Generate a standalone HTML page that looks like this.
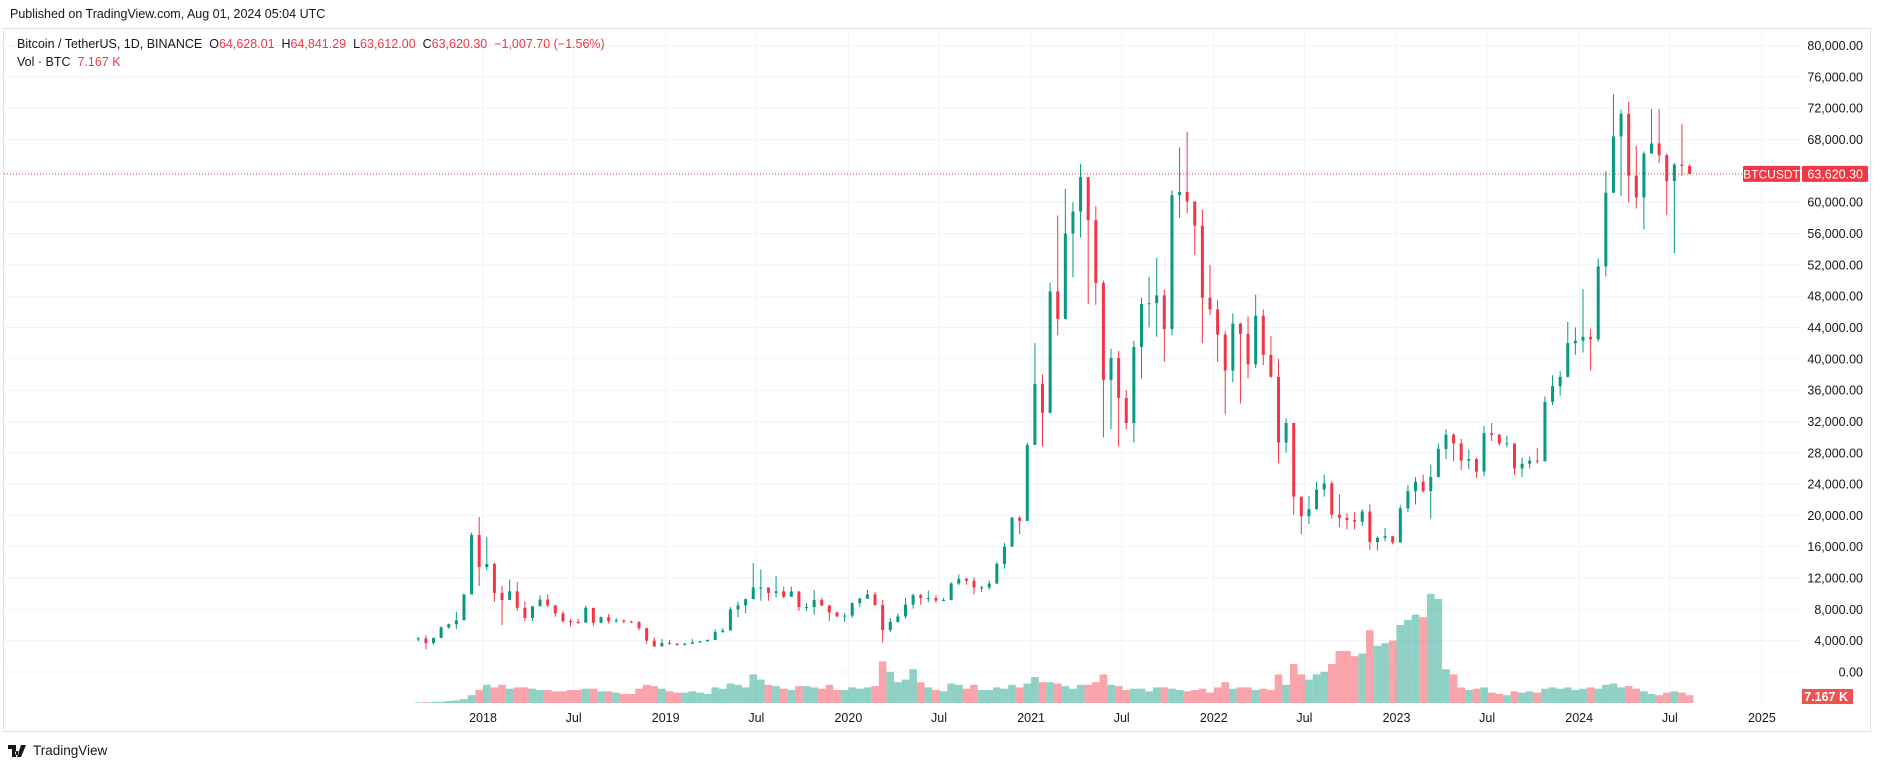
<!DOCTYPE html>
<html><head><meta charset="utf-8"><style>
html,body{margin:0;padding:0;background:#fff;width:1882px;height:768px;overflow:hidden;font-family:"Liberation Sans",sans-serif;color:#131722}
#pub{position:absolute;left:10px;top:7px;font-size:12.5px}
#frame{position:absolute;left:3px;top:28px;width:1868px;height:704px;border:1px solid #e0e3eb;box-sizing:border-box}
#legend{position:absolute;left:17px;top:35px;font-size:12.5px;line-height:18px}
.r{color:#F23645}
#foot{position:absolute;left:8px;top:743px;font-size:13.5px;display:flex;align-items:center;gap:5px}
svg{position:absolute;left:0;top:0}
</style></head><body>
<div id="pub">Published on TradingView.com, Aug 01, 2024 05:04 UTC</div>
<div id="frame"></div>
<svg id="chart" width="1882" height="768"></svg>
<div id="legend">
<div>Bitcoin / TetherUS, 1D, BINANCE&nbsp; O<span class="r">64,628.01</span>&nbsp; H<span class="r">64,841.29</span>&nbsp; L<span class="r">63,612.00</span>&nbsp; C<span class="r">63,620.30</span>&nbsp; <span class="r">−1,007.70 (−1.56%)</span></div>
<div>Vol · BTC&nbsp; <span class="r">7.167 K</span></div>
</div>
<div id="foot"><svg width="20" height="12" style="position:static"><path d="M0 0h8v12H4V4H0z M9 6a2 2 0 1 0 0.01 0z M13 0h5l-5 12h-4z" fill="#131722"/></svg><span>TradingView</span></div>
<script>
const closes=[4300,3700,4350,5700,6100,6600,9900,17500,13400,
13800,10100,9200,10300,8200,6900,8400,9250,8500,7500,6500,6400,6300,8200,6300,7000,6500,6600,6450,6350,5600,4000,3250,3700,
3600,3450,3600,3800,3900,4100,5100,5300,8000,8500,9300,10800,10800,10100,10300,9600,10300,8300,8300,9200,8500,7600,7100,7200,
8800,9350,9900,8550,5350,6400,7100,8600,9800,9450,9450,9130,9200,11300,11900,11650,10800,10800,11300,13800,16000,19700,19300,29000,
36800,33100,48600,45100,56000,58800,63200,57700,49700,37300,40100,35000,31800,41500,47000,47100,48100,43800,60900,61300,60100,57000,47800,46300,
43100,38500,44500,43200,39300,45500,40500,37700,29300,31800,22400,19900,20800,23300,24100,20100,19700,19400,19200,20500,16600,17150,17350,16550,
20900,23100,24300,23100,24900,28500,30300,29200,27000,27200,25600,30500,30300,29200,29200,26000,26600,27000,26900,34500,36500,37700,42000,42300,
42800,42500,51800,61200,68400,71300,63400,60600,66200,67500,66000,62700,64800,64628,63620];
const highs=[4480,4700,4400,5850,6200,7700,10000,17800,19800,
17200,14000,11000,11800,11500,9000,8400,9800,9900,8600,7800,6800,6800,8500,7700,7100,7400,6900,6700,6550,6500,5600,4400,4200,
4100,3700,3700,4200,4000,4150,5450,5600,8300,9000,9400,13900,13100,10600,12300,10900,10900,10300,8800,10500,9500,8600,7700,7500,
8900,9500,10500,10200,9200,6900,7450,9450,10000,9950,10400,9800,9450,11450,12450,12050,12100,11000,11700,14100,16500,19800,19900,29300,
42000,38000,49700,58300,61700,60000,64900,58000,59500,50000,41300,41000,36000,42300,47800,50500,52900,48800,61500,67000,69000,60000,59000,52000,
47500,43500,45800,44600,45400,48200,46300,42900,40000,32400,31800,22000,22500,24300,25200,24400,22700,20300,20400,20800,21400,17300,18400,17100,
21300,23900,24900,25200,26500,29200,31000,30500,29800,28400,27400,31400,31800,30400,30200,28100,27400,27500,28600,35200,37900,38400,44700,44000,
48900,43800,52800,64000,73800,71800,72800,67200,66500,71900,71900,66200,65000,70000,64841];
const lows=[3900,2900,3500,4300,5500,5500,7800,10500,11000,
13000,9000,6000,9500,7800,6500,6500,8400,8300,7050,6300,5800,6100,6300,5900,6200,6200,6300,6200,6250,5300,3600,3200,3250,
3500,3350,3400,3600,3700,3900,4100,5000,5300,7000,7500,9300,9100,9100,9500,9400,9800,7800,7800,7300,8400,6500,7000,6400,
6900,8300,9500,8500,3800,5100,6300,6800,8100,8600,8900,8850,9050,9150,11100,11150,9900,10200,10500,11200,13200,16200,17600,19300,
29000,28800,33000,43000,45000,50400,55500,47000,46900,30000,31000,28800,31000,29300,37500,44000,42800,39600,43000,58000,58600,53300,42000,45600,
39600,32900,37000,34300,37500,38800,39200,37600,26700,28000,20100,17600,18900,20700,22400,19600,18500,18200,18200,18650,15600,15500,16700,16300,
16500,20400,21400,22900,19600,26600,27200,26900,25800,25900,24800,25000,29500,28900,28700,25200,24900,26000,26600,26900,34100,35300,37600,40500,
40800,38500,42200,50500,61200,60800,60000,59200,56500,66300,65000,58400,53500,63400,63612];
const volumes=[2,3,4,5,8,10,15,30,50,
70,60,70,55,60,60,55,50,50,45,45,50,50,55,55,45,45,40,35,35,55,70,65,55,
45,40,40,45,40,35,60,55,75,70,60,110,90,70,65,55,50,65,65,60,55,70,50,50,
60,55,60,65,160,120,80,90,130,80,60,50,45,75,70,55,70,50,50,60,55,70,60,75,
100,80,80,75,65,55,70,70,80,110,70,65,50,55,55,45,60,60,55,50,45,50,55,40,
60,80,55,60,60,50,55,50,110,70,150,110,90,110,120,150,200,200,180,190,280,220,230,240,
300,320,340,330,420,400,130,110,60,50,55,60,40,35,30,45,40,45,40,55,60,55,60,50,
55,60,55,70,75,60,65,55,45,35,30,40,45,40,30];
const firstOpen=4280;
const priceTicks=[0,4000,8000,12000,16000,20000,24000,28000,32000,36000,40000,44000,48000,52000,56000,60000,64000,68000,72000,76000,80000];
const timeLabels=["2018","Jul","2019","Jul","2020","Jul","2021","Jul","2022","Jul","2023","Jul","2024","Jul","2025"];
const timeTickDates=[2018,2018.496,2019,2019.496,2020,2020.496,2021,2021.496,2022,2022.496,2023,2023.496,2024,2024.496,2025];
const lastPrice=63620.30;

const NS="http://www.w3.org/2000/svg";
const svg=document.getElementById('chart');
const yP=v=>672-v*626.4/80000;
const xT=t=>483+(t-2018)*182.7;
const xI=i=>xT(2017.6458+i/24);
const yV=v=>703-v*0.26;
function mk(tag,attrs){const e=document.createElementNS(NS,tag);for(const k in attrs)e.setAttribute(k,attrs[k]);svg.appendChild(e);return e;}
priceTicks.forEach(v=>{
  const l=mk('line',{x1:4,x2:1800,y1:yP(v),y2:yP(v),stroke:'#f0f3fa','stroke-width':1});
  
  
  const t=mk('text',{x:1863,y:yP(v)+4.5,'text-anchor':'end','font-size':12.5,fill:'#131722','font-family':'Liberation Sans, sans-serif'});
  t.textContent=v.toLocaleString('en-US',{minimumFractionDigits:2,maximumFractionDigits:2});
  
  
});
timeTickDates.forEach((d,i)=>{
  const l=mk('line',{x1:xT(d),x2:xT(d),y1:29,y2:706,stroke:'#f0f3fa','stroke-width':1});
  
  
  const t=mk('text',{x:xT(d),y:722,'text-anchor':'middle','font-size':12.5,fill:'#131722','font-family':'Liberation Sans, sans-serif'});
  t.textContent=timeLabels[i];
  
  
});
volumes.forEach((v,i)=>{
  const o=i?closes[i-1]:firstOpen, up=closes[i]>=o;
  const r=mk('rect',{x:xI(i)-3.8,y:yV(v),width:7.6,height:703-yV(v),fill:up?'rgba(8,153,129,0.45)':'rgba(242,54,69,0.45)'});
  
  
});
const pl=mk('line',{x1:4,x2:1742,y1:yP(lastPrice),y2:yP(lastPrice),stroke:'#F23645','stroke-width':1,'stroke-dasharray':'1,2'});


closes.forEach((c,i)=>{
  const o=i?closes[i-1]:firstOpen, up=c>=o, col=up?'#089981':'#F23645', x=xI(i);
  const w=mk('line',{x1:x,x2:x,y1:yP(highs[i]),y2:yP(lows[i]),stroke:col,'stroke-width':1});
  
  
  const top=yP(Math.max(o,c)), h=Math.max(1,Math.abs(yP(o)-yP(c)));
  const b=mk('rect',{x:x-1.5,y:top,width:3,height:h,fill:col});
  
  
});
const yl=yP(lastPrice);
const b1=mk('rect',{x:1743,y:yl-8,width:57,height:16,fill:'#F23645',rx:1});


const t1=mk('text',{x:1771.5,y:yl+4.5,'text-anchor':'middle','font-size':12,fill:'#fff','font-family':'Liberation Sans, sans-serif'});t1.textContent='BTCUSDT';


const b2=mk('rect',{x:1802,y:yl-8,width:66,height:16,fill:'#F23645',rx:1});


const t2=mk('text',{x:1863,y:yl+4.5,'text-anchor':'end','font-size':12.5,fill:'#fff','font-family':'Liberation Sans, sans-serif'});t2.textContent='63,620.30';


const b3=mk('rect',{x:1802,y:689,width:51,height:15,fill:'#ef5350'});


const t3=mk('text',{x:1848,y:701,'text-anchor':'end','font-size':12.5,'font-weight':'bold',fill:'#fff','font-family':'Liberation Sans, sans-serif'});t3.textContent='7.167 K';


</script>
</body></html>
